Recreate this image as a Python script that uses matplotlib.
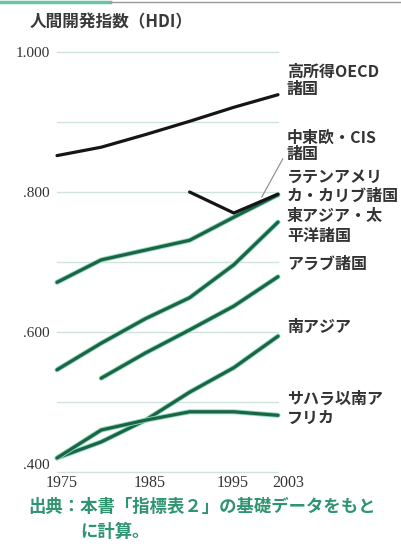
import matplotlib
matplotlib.use("Agg")
import matplotlib.pyplot as plt
import matplotlib.patheffects as pe
import matplotlib.transforms as mtransforms
from matplotlib.lines import Line2D

plt.rcParams['font.family'] = ['Noto Sans CJK JP', 'DejaVu Sans']

# HDI trends
years = ['1975', '1980', '1985', '1990', '1995', '2003']
oecd = [0.852, 0.864, 0.882, 0.901, 0.921, 0.939]
cee_cis = [None, None, None, 0.800, 0.770, 0.797]
latin = [0.671, 0.703, 0.717, 0.731, 0.764, 0.796]
east_asia = [0.546, 0.584, 0.619, 0.649, 0.696, 0.757]
arab = [None, 0.534, 0.570, 0.603, 0.637, 0.679]
south_asia = [0.420, 0.443, 0.474, 0.514, 0.549, 0.594]
ssa = [0.420, 0.460, 0.474, 0.486, 0.486, 0.481]

xtick_years = ['1975', '1985', '1995', '2003']
ytick_vals = [0.4, 0.6, 0.8, 1.0]
ytick_labels = ['.400', '.600', '.800', '1.000']
grid_vals = [0.4, 0.5, 0.6, 0.7, 0.8, 0.9, 1.0]

# right-hand labels (one entry per text line) and where they sit
label_lines = ['高所得OECD', '諸国', '中東欧・CIS', '諸国', 'ラテンアメリ', 'カ・カリブ諸国',
               '東アジア・太', '平洋諸国', 'アラブ諸国', '南アジア', 'サハラ以南ア', 'フリカ']
label_px = [72, 89, 138, 154, 177, 196, 216, 236, 264, 327, 399, 418]

green = '#1a6543'
black = '#151515'

fig = plt.figure(figsize=(4.02, 5.47), dpi=100)
ax = fig.add_axes([57 / 402, 75 / 547, 221 / 402, 420 / 547])
ax.set_xlim(0, 5)
ax.set_ylim(0.4, 1.0)

for g in grid_vals:
    ax.axhline(g, color='#cfe2db', lw=1.0, zorder=0, clip_on=False)

def series(vals):
    xs = [i for i, v in enumerate(vals) if v is not None]
    ys = [v for v in vals if v is not None]
    return xs, ys

halo = [pe.Stroke(linewidth=3.6, foreground='#8fd6bd'), pe.Normal()]
for vals in [latin, east_asia, arab, south_asia, ssa]:
    xs, ys = series(vals)
    ax.plot(xs, ys, color=green, lw=2.3, solid_capstyle='round',
            path_effects=halo, clip_on=False, zorder=3)
for vals in [oecd, cee_cis]:
    xs, ys = series(vals)
    ax.plot(xs, ys, color=black, lw=2.3, solid_capstyle='round',
            clip_on=False, zorder=4)

# leader line for CEE/CIS
ax.annotate('', xy=(4.6, 0.789), xytext=(5.14, 0.851),
            arrowprops=dict(arrowstyle='-', color='#888888', lw=0.8),
            annotation_clip=False)

for txt, py in zip(label_lines, label_px):
    yv = 0.4 + (472 - py) / 700
    ax.text(5.2, yv, txt, fontsize=11.5, fontweight='bold', color='#333333',
            va='center', ha='left', clip_on=False)

ax.set_yticks(ytick_vals)
ax.set_yticklabels(ytick_labels, fontsize=11, family='Liberation Serif', color='#333333')
ax.get_yticklabels()[0].set_va('bottom')
ax.set_xticks([years.index(y) for y in xtick_years])
ax.set_xticklabels(xtick_years, fontsize=11.5, family='Liberation Serif', color='#333333')
ax.tick_params(length=0, axis='y', pad=5)
ax.tick_params(length=0, axis='x', pad=2)
for s in ax.spines.values():
    s.set_visible(False)

# year labels sit a little right of their points in the original
shifts = [5, 4, -1, 10]
for lab, dx in zip(ax.get_xticklabels(), shifts):
    lab.set_transform(lab.get_transform() +
                      mtransforms.ScaledTranslation(dx / 100, 0, fig.dpi_scale_trans))

fig.text(30 / 402, 1 - 22 / 547, '人間開発指数（HDI）', fontsize=12, fontweight='bold',
         color='#3a3a3a', va='center', ha='left')
fig.text(28 / 402, 1 - 507 / 547, '出典：本書「指標表２」の基礎データをもと',
         fontsize=12.5, fontweight='bold', color='#2f9470', va='center', ha='left')
fig.text(80 / 402, 1 - 532 / 547, 'に計算。', fontsize=12.5, fontweight='bold',
         color='#2f9470', va='center', ha='left')

# thin rule across the top edge
fig.add_artist(Line2D([0, 110 / 402], [0.997, 0.997], color='#6cc3a8', lw=2.5))
fig.add_artist(Line2D([110 / 402, 1], [0.997, 0.997], color='#9a9a9a', lw=1.0))

fig.savefig('out.png', dpi=100)
